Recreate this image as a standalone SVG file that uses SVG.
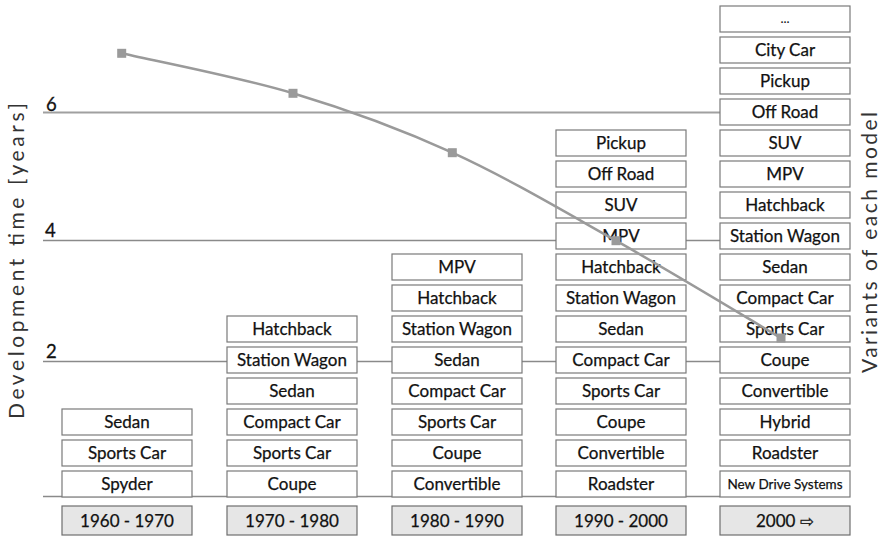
<svg xmlns="http://www.w3.org/2000/svg" width="882" height="538" viewBox="0 0 882 538">
<style>
.box{fill:#fff;stroke:#7a7a7a;stroke-width:1.2}
.yr{fill:#e6e6e6;stroke:#6e6e6e;stroke-width:1.2}
.t{font-family:Lato,"Liberation Sans","DejaVu Sans",sans-serif;font-size:17px;fill:#111;text-anchor:middle;stroke:#111;stroke-width:0.25}
.ts{font-size:13.5px}
.tick{font-family:Lato,"Liberation Sans",sans-serif;font-size:18.5px;fill:#111;stroke:#111;stroke-width:0.3}
.ax{font-family:Lato,"Liberation Sans",sans-serif;font-size:21px;fill:#333;text-anchor:middle}
.grid{stroke:#8a8a8a;stroke-width:1.4;fill:none}
.curve{stroke:#9a9a9a;stroke-width:2.5;fill:none}
.mk{fill:#9a9a9a}
</style>
<rect width="882" height="538" fill="#fff"/>
<g id="connectors">
<line class="grid" x1="43" y1="112.5" x2="720" y2="112.5" style="stroke:#a0a0a0;stroke-width:2"/>
<line class="grid" x1="43" y1="240.5" x2="720" y2="240.5"/>
<line class="grid" x1="43" y1="361.5" x2="720" y2="361.5"/>
<line class="grid" x1="43" y1="496.5" x2="720" y2="496.5"/>
</g>
<g id="axis-labels">
<text class="tick" x="46" y="110.5">6</text>
<text class="tick" x="45" y="236.7">4</text>
<text class="tick" x="46" y="358.3">2</text>
<text class="ax" transform="translate(24,261) rotate(-90)" textLength="316" lengthAdjust="spacing">Development time [years]</text>
<text class="ax" transform="translate(877,242.5) rotate(-90)" textLength="261" lengthAdjust="spacing">Variants of each model</text>
</g>
<g id="col1">
<g id="c1-r0"><rect class="box" x="62" y="471" width="130" height="26"/><text class="t" x="127" y="490">Spyder</text></g>
<g id="c1-r1"><rect class="box" x="62" y="440" width="130" height="26"/><text class="t" x="127" y="459">Sports Car</text></g>
<g id="c1-r2"><rect class="box" x="62" y="409" width="130" height="26"/><text class="t" x="127" y="428">Sedan</text></g>
</g>
<g id="col2">
<g id="c2-r0"><rect class="box" x="227" y="471" width="130" height="26"/><text class="t" x="292" y="490">Coupe</text></g>
<g id="c2-r1"><rect class="box" x="227" y="440" width="130" height="26"/><text class="t" x="292" y="459">Sports Car</text></g>
<g id="c2-r2"><rect class="box" x="227" y="409" width="130" height="26"/><text class="t" x="292" y="428">Compact Car</text></g>
<g id="c2-r3"><rect class="box" x="227" y="378" width="130" height="26"/><text class="t" x="292" y="397">Sedan</text></g>
<g id="c2-r4"><rect class="box" x="227" y="347" width="130" height="26"/><text class="t" x="292" y="366">Station Wagon</text></g>
<g id="c2-r5"><rect class="box" x="227" y="316" width="130" height="26"/><text class="t" x="292" y="335">Hatchback</text></g>
</g>
<g id="col3">
<g id="c3-r0"><rect class="box" x="392" y="471" width="130" height="26"/><text class="t" x="457" y="490">Convertible</text></g>
<g id="c3-r1"><rect class="box" x="392" y="440" width="130" height="26"/><text class="t" x="457" y="459">Coupe</text></g>
<g id="c3-r2"><rect class="box" x="392" y="409" width="130" height="26"/><text class="t" x="457" y="428">Sports Car</text></g>
<g id="c3-r3"><rect class="box" x="392" y="378" width="130" height="26"/><text class="t" x="457" y="397">Compact Car</text></g>
<g id="c3-r4"><rect class="box" x="392" y="347" width="130" height="26"/><text class="t" x="457" y="366">Sedan</text></g>
<g id="c3-r5"><rect class="box" x="392" y="316" width="130" height="26"/><text class="t" x="457" y="335">Station Wagon</text></g>
<g id="c3-r6"><rect class="box" x="392" y="285" width="130" height="26"/><text class="t" x="457" y="304">Hatchback</text></g>
<g id="c3-r7"><rect class="box" x="392" y="254" width="130" height="26"/><text class="t" x="457" y="273">MPV</text></g>
</g>
<g id="col4">
<g id="c4-r0"><rect class="box" x="556" y="471" width="130" height="26"/><text class="t" x="621" y="490">Roadster</text></g>
<g id="c4-r1"><rect class="box" x="556" y="440" width="130" height="26"/><text class="t" x="621" y="459">Convertible</text></g>
<g id="c4-r2"><rect class="box" x="556" y="409" width="130" height="26"/><text class="t" x="621" y="428">Coupe</text></g>
<g id="c4-r3"><rect class="box" x="556" y="378" width="130" height="26"/><text class="t" x="621" y="397">Sports Car</text></g>
<g id="c4-r4"><rect class="box" x="556" y="347" width="130" height="26"/><text class="t" x="621" y="366">Compact Car</text></g>
<g id="c4-r5"><rect class="box" x="556" y="316" width="130" height="26"/><text class="t" x="621" y="335">Sedan</text></g>
<g id="c4-r6"><rect class="box" x="556" y="285" width="130" height="26"/><text class="t" x="621" y="304">Station Wagon</text></g>
<g id="c4-r7"><rect class="box" x="556" y="254" width="130" height="26"/><text class="t" x="621" y="273">Hatchback</text></g>
<g id="c4-r8"><rect class="box" x="556" y="223" width="130" height="26"/><text class="t" x="621" y="242">MPV</text></g>
<g id="c4-r9"><rect class="box" x="556" y="192" width="130" height="26"/><text class="t" x="621" y="211">SUV</text></g>
<g id="c4-r10"><rect class="box" x="556" y="161" width="130" height="26"/><text class="t" x="621" y="180">Off Road</text></g>
<g id="c4-r11"><rect class="box" x="556" y="130" width="130" height="26"/><text class="t" x="621" y="149">Pickup</text></g>
</g>
<g id="col5">
<g id="c5-r0"><rect class="box" x="720" y="471" width="130" height="26"/><text class="t ts" x="785" y="489">New Drive Systems</text></g>
<g id="c5-r1"><rect class="box" x="720" y="440" width="130" height="26"/><text class="t" x="785" y="459">Roadster</text></g>
<g id="c5-r2"><rect class="box" x="720" y="409" width="130" height="26"/><text class="t" x="785" y="428">Hybrid</text></g>
<g id="c5-r3"><rect class="box" x="720" y="378" width="130" height="26"/><text class="t" x="785" y="397">Convertible</text></g>
<g id="c5-r4"><rect class="box" x="720" y="347" width="130" height="26"/><text class="t" x="785" y="366">Coupe</text></g>
<g id="c5-r5"><rect class="box" x="720" y="316" width="130" height="26"/><text class="t" x="785" y="335">Sports Car</text></g>
<g id="c5-r6"><rect class="box" x="720" y="285" width="130" height="26"/><text class="t" x="785" y="304">Compact Car</text></g>
<g id="c5-r7"><rect class="box" x="720" y="254" width="130" height="26"/><text class="t" x="785" y="273">Sedan</text></g>
<g id="c5-r8"><rect class="box" x="720" y="223" width="130" height="26"/><text class="t" x="785" y="242">Station Wagon</text></g>
<g id="c5-r9"><rect class="box" x="720" y="192" width="130" height="26"/><text class="t" x="785" y="211">Hatchback</text></g>
<g id="c5-r10"><rect class="box" x="720" y="161" width="130" height="26"/><text class="t" x="785" y="180">MPV</text></g>
<g id="c5-r11"><rect class="box" x="720" y="130" width="130" height="26"/><text class="t" x="785" y="149">SUV</text></g>
<g id="c5-r12"><rect class="box" x="720" y="99" width="130" height="26"/><text class="t" x="785" y="118">Off Road</text></g>
<g id="c5-r13"><rect class="box" x="720" y="68" width="130" height="26"/><text class="t" x="785" y="87">Pickup</text></g>
<g id="c5-r14"><rect class="box" x="720" y="37" width="130" height="26"/><text class="t" x="785" y="56">City Car</text></g>
<g id="c5-r15"><rect class="box" x="720" y="6" width="130" height="26"/><text class="t" x="785" y="23" style="font-size:13px;stroke-width:0">...</text></g>
</g>
<g id="years">
<g id="y1960"><rect class="yr" x="62" y="506" width="130" height="29"/><text class="t" x="127" y="526.5">1960 - 1970</text></g>
<g id="y1970"><rect class="yr" x="227" y="506" width="130" height="29"/><text class="t" x="292" y="526.5">1970 - 1980</text></g>
<g id="y1980"><rect class="yr" x="392" y="506" width="130" height="29"/><text class="t" x="457" y="526.5">1980 - 1990</text></g>
<g id="y1990"><rect class="yr" x="556" y="506" width="130" height="29"/><text class="t" x="621" y="526.5">1990 - 2000</text></g>
<g id="y2000"><rect class="yr" x="720" y="506" width="130" height="29"/><text class="t" x="785" y="526.5">2000 <tspan style="font-family:'DejaVu Sans',sans-serif;font-size:17px">⇨</tspan></text></g>
</g>
<g id="curve">
<path class="curve" d="M121.7,53.3 C150.25,59.97 237.9,76.73 293,93.3 C348.1,109.87 398.47,128.13 452.3,152.7 C506.13,177.27 561.22,209.82 616,240.7 C670.78,271.58 753.5,321.78 781,338"/>
<rect class="mk" x="117.2" y="48.8" width="9" height="9"/>
<rect class="mk" x="288.5" y="88.8" width="9" height="9"/>
<rect class="mk" x="447.8" y="148.2" width="9" height="9"/>
<rect class="mk" x="611.5" y="236.2" width="9" height="9"/>
<rect class="mk" x="776.5" y="333.5" width="9" height="9"/>
</g>
</svg>
